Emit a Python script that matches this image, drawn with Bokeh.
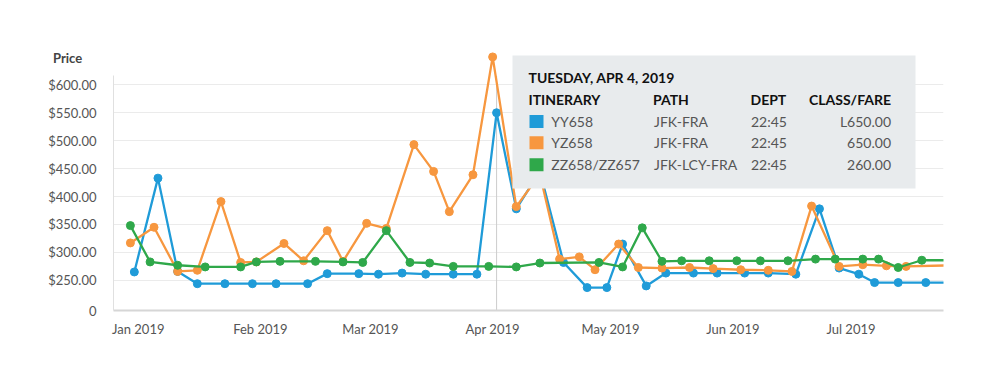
import pandas as pd
from bokeh.plotting import figure
from bokeh.models import (FixedTicker, DatetimeTickFormatter, BoxAnnotation, Label, Range1d)
from bokeh.embed import file_html
from bokeh.resources import INLINE

# ---------------- data ----------------
series_names = ["YY658", "YZ658", "ZZ658/ZZ657"]
series_colors = ["#1f9bd8", "#f7973f", "#2fa84a"]

yy658_dates = ["2018-12-31", "2019-01-06", "2019-01-11", "2019-01-16", "2019-01-23", "2019-01-30",
               "2019-02-05", "2019-02-13", "2019-02-18", "2019-02-26", "2019-03-03", "2019-03-09",
               "2019-03-15", "2019-03-22", "2019-03-28", "2019-04-02", "2019-04-07", "2019-04-13",
               "2019-04-19", "2019-04-25", "2019-04-30", "2019-05-04", "2019-05-10", "2019-05-15",
               "2019-05-22", "2019-05-28", "2019-06-04", "2019-06-10", "2019-06-17", "2019-06-23",
               "2019-06-28", "2019-07-03", "2019-07-07", "2019-07-13", "2019-07-20", "2019-07-27"]
yy658_prices = [265, 433, 266, 244, 244, 244, 244, 244, 262, 262, 261, 263,
                261, 261, 261, 550, 378, 445, 282, 237, 237, 315, 240, 263,
                263, 263, 263, 263, 261, 378, 272, 261, 246, 246, 246, 246]

yz658_dates = ["2018-12-30", "2019-01-05", "2019-01-11", "2019-01-16", "2019-01-22", "2019-01-27",
               "2019-01-31", "2019-02-07", "2019-02-12", "2019-02-18", "2019-02-22", "2019-02-28",
               "2019-03-05", "2019-03-12", "2019-03-17", "2019-03-21", "2019-03-27", "2019-04-01",
               "2019-04-07", "2019-04-13", "2019-04-18", "2019-04-23", "2019-04-27", "2019-05-03",
               "2019-05-08", "2019-05-14", "2019-05-21", "2019-05-27", "2019-06-03", "2019-06-10",
               "2019-06-16", "2019-06-21", "2019-06-28", "2019-07-04", "2019-07-10", "2019-07-15",
               "2019-07-27"]
yz658_prices = [317, 345, 266, 268, 391, 282, 283, 316, 285, 339, 284, 352,
                343, 493, 445, 373, 439, 650, 382, 440, 288, 292, 269, 315,
                273, 272, 273, 271, 269, 268, 266, 383, 275, 278, 276, 275, 277]

zz658_dates = ["2018-12-30", "2019-01-04", "2019-01-11", "2019-01-18", "2019-01-27", "2019-01-31",
               "2019-02-06", "2019-02-15", "2019-02-22", "2019-02-27", "2019-03-05", "2019-03-11",
               "2019-03-16", "2019-03-22", "2019-03-31", "2019-04-07", "2019-04-13", "2019-04-28",
               "2019-05-04", "2019-05-09", "2019-05-14", "2019-05-19", "2019-05-26", "2019-06-02",
               "2019-06-08", "2019-06-15", "2019-06-22", "2019-06-27", "2019-07-04", "2019-07-08",
               "2019-07-13", "2019-07-19", "2019-07-27"]
zz658_prices = [348, 283, 277, 274, 274, 283, 284, 284, 283, 282, 339, 282,
                281, 275, 275, 274, 281, 282, 274, 344, 284, 285, 285, 285,
                285, 285, 288, 288, 288, 288, 273, 286, 286]

x_tick_dates = ["2019-01-01", "2019-02-01", "2019-03-01", "2019-04-01",
                "2019-05-01", "2019-06-01", "2019-07-01"]
y_ticks = [196, 250, 300, 350, 400, 450, 500, 550, 600]
y_tick_labels = ["0", "$250.00", "$300.00", "$350.00", "$400.00", "$450.00",
                 "$500.00", "$550.00", "$600.00"]

crosshair_date = "2019-04-02"
tooltip_title = "TUESDAY, APR 4, 2019"
tooltip_headers = ["ITINERARY", "PATH", "DEPT", "CLASS/FARE"]
tooltip_paths = ["JFK-FRA", "JFK-FRA", "JFK-LCY-FRA"]
tooltip_depts = ["22:45", "22:45", "22:45"]
tooltip_fares = ["L650.00", "650.00", "260.00"]

# ---------------- layout constants ----------------
FONT = "Lato"
X_START = pd.Timestamp("2018-12-25 17:00")
X_END = pd.Timestamp("2019-07-24 12:00")
Y_START, Y_END = 196, 661.5
Y_AXIS_TOP = 616

p = figure(width=991, height=368, x_axis_type="datetime",
           x_range=Range1d(X_START, X_END), y_range=Range1d(Y_START, Y_END),
           output_backend="svg", toolbar_location=None,
           min_border_left=113, min_border_right=48, min_border_top=50, min_border_bottom=58)
p.outline_line_color = None
p.background_fill_color = "white"
p.border_fill_color = "white"

# axes
xax = p.xaxis[0]
xax.ticker = FixedTicker(ticks=[pd.Timestamp(d).value // 10**6 for d in x_tick_dates])
fmt = "%b %Y"
xax.formatter = DatetimeTickFormatter(microseconds=fmt, milliseconds=fmt, seconds=fmt, minsec=fmt,
                                      minutes=fmt, hourmin=fmt, hours=fmt, days=fmt, months=fmt,
                                      years=fmt, context=None)
xax.axis_line_color = "#d6d6d6"
xax.axis_line_width = 2
xax.major_tick_line_color = None
xax.minor_tick_line_color = None
xax.major_label_standoff = 4
xax.major_label_text_font = FONT
xax.major_label_text_font_size = "13px"
xax.major_label_text_color = "#555555"

yax = p.yaxis[0]
yax.ticker = FixedTicker(ticks=y_ticks)
yax.major_label_overrides = {v: lab for v, lab in zip(y_ticks, y_tick_labels)}
yax.bounds = (Y_START, Y_AXIS_TOP)
yax.axis_line_color = "#e0e0e0"
yax.major_tick_line_color = None
yax.minor_tick_line_color = None
yax.major_label_standoff = 11
yax.major_label_text_font = FONT
yax.major_label_text_font_size = "13px"
yax.major_label_text_color = "#555555"

p.xgrid.visible = False
p.ygrid.grid_line_color = "#ebebeb"
p.ygrid.grid_line_width = 1

# crosshair
p.segment(x0=[pd.Timestamp(crosshair_date)], y0=[Y_START], x1=[pd.Timestamp(crosshair_date)],
          y1=[Y_AXIS_TOP], line_color="#cccccc", line_width=1)

# series
all_dates = [yy658_dates, yz658_dates, zz658_dates]
all_prices = [yy658_prices, yz658_prices, zz658_prices]
for dates, prices, color in zip(all_dates, all_prices, series_colors):
    xs = pd.to_datetime(dates)
    p.line(xs, prices, line_color=color, line_width=2.3)
    p.scatter(xs, prices, size=8, fill_color=color, line_color=color)

# "Price" title (placed in the top side panel so it is not clipped to the frame)
p.add_layout(Label(x=-60.5, y=-7, x_units="screen", y_units="screen", text="Price",
                   text_font=FONT, text_font_size="13px", text_font_style="bold",
                   text_color="#444444", text_baseline="middle", text_align="left"), "above")

# tooltip box
p.add_layout(BoxAnnotation(left=399, right=802, top=255, bottom=122,
                           left_units="screen", right_units="screen",
                           top_units="screen", bottom_units="screen",
                           fill_color="#e8ebed", fill_alpha=1.0, line_color=None))

p.add_layout(Label(x=415, y=233, x_units="screen", y_units="screen", text=tooltip_title,
                   text_font=FONT, text_font_size="14px", text_font_style="bold",
                   text_color="#111111", text_baseline="middle", text_align="left"))
header_x = [415, 539.5, 637, 777.5]
header_align = ["left", "left", "left", "right"]
for hx, ha, ht in zip(header_x, header_align, tooltip_headers):
    p.add_layout(Label(x=hx, y=211, x_units="screen", y_units="screen", text=ht,
                       text_font=FONT, text_font_size="14px", text_font_style="bold",
                       text_color="#111111", text_baseline="middle", text_align=ha))

row_y = [189, 167.7, 145.7]
for ry, name, color, path, dept, fare in zip(row_y, series_names, series_colors,
                                              tooltip_paths, tooltip_depts, tooltip_fares):
    p.add_layout(BoxAnnotation(left=416, right=430, top=ry + 6.5, bottom=ry - 6.5,
                               left_units="screen", right_units="screen",
                               top_units="screen", bottom_units="screen",
                               fill_color=color, fill_alpha=1.0, line_color=None))
    for tx, ta, tt in zip([437.7, 540.5, 637.5, 777.5], ["left", "left", "left", "right"],
                          [name, path, dept, fare]):
        p.add_layout(Label(x=tx, y=ry, x_units="screen", y_units="screen", text=tt,
                           text_font=FONT, text_font_size="14px",
                           text_color="#555555", text_baseline="middle", text_align=ta))

open("out.html", "w").write(file_html(p, INLINE))
